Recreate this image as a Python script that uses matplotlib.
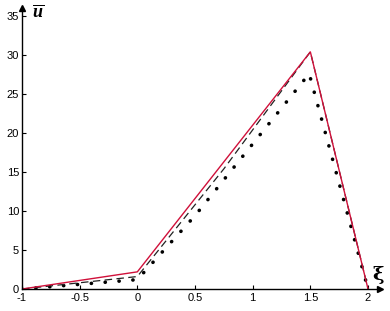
import numpy as np
import matplotlib.pyplot as plt

plt.rcParams['font.family'] = ['Liberation Sans', 'DejaVu Sans']
plt.rcParams['mathtext.fontset'] = 'custom'
plt.rcParams['mathtext.it'] = 'Liberation Serif:italic:bold'
plt.rcParams['mathtext.rm'] = 'Liberation Serif:bold'

# series
xi_red = [-1, 0, 1.5, 2]
u_red = [0, 2.2, 30.4, 0]

xi_dash = [-1, 0, 0.75, 1.5, 2]
u_dash = [0, 1.6, 15.4, 30.4, 0]

xi_dot = [-1, -0.5, 0, 0.5, 1.0, 1.49, 2]
u_dot = [0, 0.6, 1.2, 9.4, 18.6, 27.6, 0]

xticks = [-1, -0.5, 0, 0.5, 1, 1.5, 2]
xlabels = ['-1', '-0.5', '0', '0.5', '1', '1.5', '2']
yticks = [0, 5, 10, 15, 20, 25, 30, 35]

fig = plt.figure(figsize=(3.9, 3.11), dpi=100)
ax = fig.add_axes([0.0564, 0.0707, 0.918, 0.903])

ax.plot(xi_dot, u_dot, color='black', lw=2.6, dashes=(0.05, 3.8),
        dash_capstyle='round')
ax.plot(xi_dash, u_dash, color='#222222', lw=0.9, dashes=(6, 3.5))
ax.plot(xi_red, u_red, color='#d0103a', lw=1.0)

ax.set_xlim(-1, 2.104)
ax.set_ylim(0, 36.0)
ax.set_xticks(xticks)
ax.set_xticklabels(xlabels)
ax.set_yticks(yticks)
ax.tick_params(direction='in', length=3, width=0.8, labelsize=8, pad=2)
ax.tick_params(axis='x', pad=3)

for s in ['top', 'right']:
    ax.spines[s].set_visible(False)
for s in ['left', 'bottom']:
    ax.spines[s].set_linewidth(1.0)

# arrow heads on the axes
ax.plot(1, 0, '>k', ms=5, transform=ax.transAxes, clip_on=False)
ax.plot(0, 1, '^k', ms=5, transform=ax.transAxes, clip_on=False)

fig.text(0.082, 0.985, r'$\overline{u}$', fontsize=13, ha='left', va='top')
fig.text(0.97, 0.088, 'ξ', fontsize=14, fontweight='bold',
         family='DejaVu Serif', ha='center', va='bottom')

fig.savefig('out.png', dpi=100)
